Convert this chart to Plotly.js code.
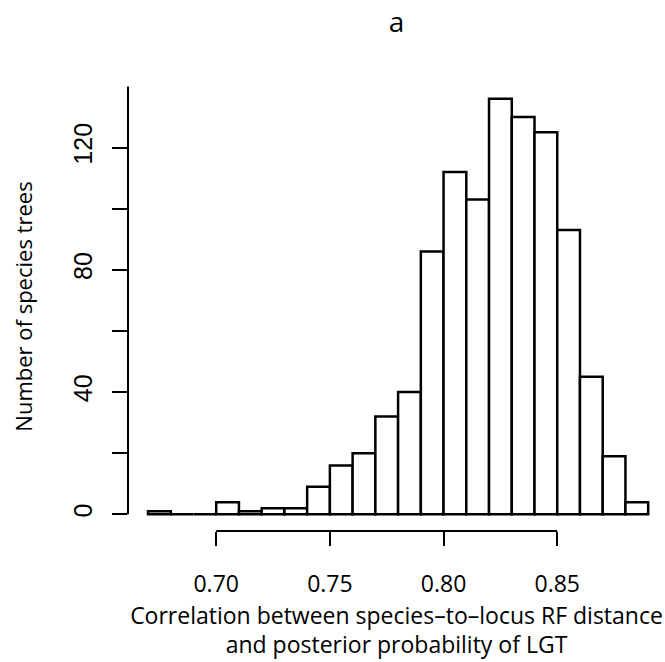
<!DOCTYPE html>
<html>
<head>
<meta charset="utf-8">
<script src="https://cdn.plot.ly/plotly-3.0.1.min.js"></script>
<style>html,body{margin:0;padding:0;background:#fff;}#chart{width:665px;height:662px;}</style>
</head>
<body>
<div id="chart"></div>
<script>
// Histogram bins (left edges) and counts
const binStart = [0.67, 0.68, 0.69, 0.70, 0.71, 0.72, 0.73, 0.74, 0.75, 0.76, 0.77,
                  0.78, 0.79, 0.80, 0.81, 0.82, 0.83, 0.84, 0.85, 0.86, 0.87, 0.88];
const counts   = [1, 0, 0, 4, 1, 2, 2, 9, 16, 20, 32,
                  40, 86, 112, 103, 136, 130, 125, 93, 45, 19, 4];
const binWidth = 0.01;
const xTickVals = [0.70, 0.75, 0.80, 0.85];
const xTickText = ['0.70', '0.75', '0.80', '0.85'];
const yTickVals = [0, 20, 40, 60, 80, 100, 120];
const yTickText = ['0', '', '40', '', '80', '', '120'];

const centers = binStart.map(b => b + binWidth / 2);

const trace = {
  type: 'bar',
  x: centers,
  y: counts,
  width: binStart.map(() => binWidth),
  marker: {color: '#ffffff', line: {color: '#000000', width: 2.5}},
  hoverinfo: 'x+y'
};

const font2 = 'Open Sans, Noto Sans, sans-serif';

const layout = {
  width: 665, height: 662,
  paper_bgcolor: '#ffffff', plot_bgcolor: '#ffffff',
  margin: {l: 128, r: 0, t: 81.5, b: 131.4, pad: 0},
  showlegend: false,
  bargap: 0,
  title: {text: 'a', font: {family: font2, size: 28, color: '#000'},
          x: 0.5, xref: 'paper', y: 1 - 22 / 662, yref: 'container', yanchor: 'middle'},
  xaxis: {
    range: [0.6612, 0.8974],
    showgrid: false, zeroline: false, showline: false,
    tickmode: 'array', tickvals: xTickVals, ticktext: xTickText,
    ticks: 'outside', ticklen: 14, tickwidth: 2, tickcolor: '#000',
    ticklabelstandoff: 18,
    tickfont: {family: font2, size: 23, color: '#000'},
    title: {text: 'Correlation between species\u2013to\u2013locus RF distance<br>and posterior probability of LGT',
            font: {family: font2, size: 23, color: '#000'}, standoff: 4}
  },
  yaxis: {
    range: [-5.44, 141.44],
    showgrid: false, zeroline: false, showline: false,
    tickmode: 'array', tickvals: yTickVals, ticktext: yTickText,
    ticks: 'outside', ticklen: 15, tickwidth: 2, tickcolor: '#000',
    ticklabelstandoff: 10,
    tickangle: -90,
    tickfont: {family: 'Liberation Sans, Arial, sans-serif', size: 25, color: '#000'},
    title: {text: 'Number of species trees', font: {family: font2, size: 22, color: '#000'}, standoff: 30}
  },
  shapes: [
    {type: 'line', xref: 'x', yref: 'paper', x0: xTickVals[0], x1: xTickVals[xTickVals.length - 1],
     y0: 0, y1: 0, line: {color: '#000', width: 2}},
    {type: 'line', xref: 'paper', yref: 'y', x0: 0, x1: 0,
     y0: 0, y1: 140, line: {color: '#000', width: 2}}
  ]
};

Plotly.newPlot('chart', [trace], layout, {displayModeBar: false, staticPlot: true});
</script>
</body>
</html>
